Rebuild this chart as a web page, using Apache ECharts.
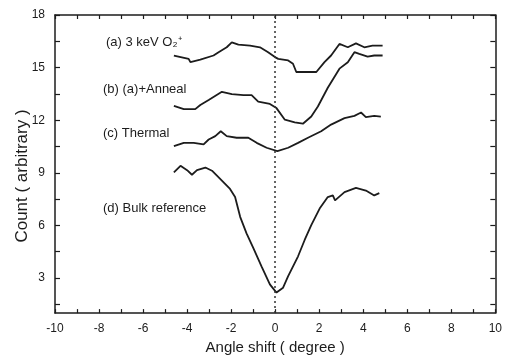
<!DOCTYPE html>
<html>
<head>
<meta charset="utf-8">
<script src="https://cdn.jsdelivr.net/npm/echarts@6/dist/echarts.min.js"></script>
<style>html,body{margin:0;padding:0;background:#fff}#c{width:505px;height:360px}</style>
</head>
<body>
<div id="c"></div>
<script>
// x tick labels and y tick labels
var xTickValues = [-10, -8, -6, -4, -2, 0, 2, 4, 6, 8, 10];
var xMinorTicks = [-10, -9, -8, -7, -6, -5, -4, -3, -2, -1, 0, 1, 2, 3, 4, 5, 6, 7, 8, 9, 10];
var yTickValues = [3, 6, 9, 12, 15, 18];
var yMinorTicks = [1.5, 3, 4.5, 6, 7.5, 9, 10.5, 12, 13.5, 15, 16.5, 18];

// (a) 3 keV O2+
var angleA = [-4.6, -3.93, -3.85, -3.40, -2.80, -2.57, -2.20, -1.97, -1.67, -1.14, -0.69, -0.32, -0.01, 0.14, 0.59, 0.81, 0.96, 1.34, 1.87, 2.24, 2.54, 2.92, 3.30, 3.67, 4.05, 4.42, 4.88];
var countA = [15.69, 15.5, 15.31, 15.45, 15.69, 15.88, 16.16, 16.44, 16.31, 16.25, 16.16, 15.88, 15.6, 15.5, 15.41, 15.22, 14.75, 14.75, 14.75, 15.31, 15.69, 16.35, 16.16, 16.38, 16.16, 16.25, 16.25];

// (b) (a)+Anneal
var angleB = [-4.6, -4.15, -3.63, -3.40, -3.02, -2.42, -1.97, -1.44, -1.07, -0.77, -0.24, 0.06, 0.44, 0.89, 1.26, 1.64, 1.94, 2.39, 2.92, 3.30, 3.60, 3.82, 4.20, 4.50, 4.88];
var countB = [12.82, 12.63, 12.63, 12.87, 13.15, 13.62, 13.49, 13.43, 13.43, 13.06, 12.93, 12.69, 12.03, 11.88, 11.80, 12.21, 12.78, 13.85, 14.94, 15.31, 15.88, 15.78, 15.63, 15.69, 15.69];

// (c) Thermal
var angleC = [-4.6, -4.15, -3.70, -3.25, -3.02, -2.72, -2.47, -2.20, -1.75, -1.22, -0.84, -0.39, 0.1, 0.59, 1.04, 1.49, 2.09, 2.54, 3.15, 3.60, 3.90, 4.12, 4.50, 4.80];
var countC = [10.52, 10.71, 10.71, 10.62, 10.90, 11.09, 11.37, 11.09, 11.00, 11.00, 10.71, 10.43, 10.24, 10.43, 10.71, 11.00, 11.37, 11.75, 12.12, 12.25, 12.44, 12.18, 12.25, 12.21];

// (d) Bulk reference
var angleD = [-4.6, -4.30, -4.00, -3.78, -3.55, -3.17, -2.87, -2.42, -2.05, -1.82, -1.59, -1.30, -0.99, -0.62, -0.24, 0.06, 0.36, 0.59, 1.04, 1.34, 1.64, 2.02, 2.39, 2.62, 2.72, 3.15, 3.67, 4.12, 4.50, 4.73];
var countD = [9.02, 9.40, 9.15, 8.89, 9.15, 9.30, 9.12, 8.55, 8.08, 7.62, 6.49, 5.55, 4.70, 3.67, 2.64, 2.17, 2.45, 3.11, 4.24, 5.17, 6.02, 6.96, 7.62, 7.71, 7.43, 7.90, 8.14, 7.99, 7.71, 7.84];

var labels = ['(a) 3 keV O\u2082\u207A', '(b) (a)+Anneal', '(c) Thermal', '(d) Bulk reference'];

function zip(xs, ys) { return xs.map(function (x, i) { return [x, ys[i]]; }); }

var FONT = '"Liberation Sans", Arial, sans-serif';
var INK = '#1c1c1c';

function lineSeries(xs, ys) {
  return {
    type: 'line', xAxisIndex: 0, yAxisIndex: 0,
    data: zip(xs, ys), showSymbol: false, symbol: 'none', smooth: false,
    lineStyle: { color: INK, width: 1.8 }, silent: true, z: 3
  };
}

var chart = echarts.init(document.getElementById('c'), null, { renderer: 'canvas' });
var series = [
  lineSeries(angleA, countA),
  lineSeries(angleB, countB),
  lineSeries(angleC, countC),
  lineSeries(angleD, countD)
];
series[0].markLine = {
  silent: true, symbol: ['none', 'none'], label: { show: false },
  lineStyle: { type: [2, 3], color: '#333', width: 1.5 },
  data: [{ xAxis: 0 }]
};

chart.setOption({
  animation: false,
  backgroundColor: '#fff',
  grid: { left: 55, right: 7, top: 15, bottom: 44, containLabel: false },
  xAxis: [{
    type: 'value', min: -10, max: 10, interval: 2, position: 'bottom',
    name: 'Angle shift ( degree )', nameLocation: 'middle', nameGap: 26,
    nameTextStyle: { fontFamily: FONT, fontSize: 15, color: INK },
    axisLine: { show: true, onZero: false, lineStyle: { color: INK, width: 1.5 } },
    axisTick: { show: true, inside: true, length: 4, customValues: xMinorTicks, lineStyle: { color: INK, width: 1.2 } },
    axisLabel: { fontFamily: FONT, fontSize: 12, color: INK, margin: 10, customValues: xTickValues },
    splitLine: { show: false }
  }, {
    type: 'value', min: -10, max: 10, interval: 2, position: 'top',
    axisLine: { show: true, onZero: false, lineStyle: { color: INK, width: 1.5 } },
    axisTick: { show: true, inside: true, length: 4, customValues: xMinorTicks, lineStyle: { color: INK, width: 1.2 } },
    axisLabel: { show: false },
    splitLine: { show: false }
  }],
  yAxis: [{
    type: 'value', min: 1, max: 18, position: 'left',
    axisLine: { show: true, onZero: false, lineStyle: { color: INK, width: 1.5 } },
    axisTick: { show: true, inside: true, length: 5, customValues: yMinorTicks, lineStyle: { color: INK, width: 1.2 } },
    axisLabel: { fontFamily: FONT, fontSize: 12, color: INK, margin: 10, customValues: yTickValues },
    splitLine: { show: false }
  }, {
    type: 'value', min: 1, max: 18, position: 'right',
    axisLine: { show: true, onZero: false, lineStyle: { color: INK, width: 1.5 } },
    axisTick: { show: true, inside: true, length: 5, customValues: yMinorTicks, lineStyle: { color: INK, width: 1.2 } },
    axisLabel: { show: false },
    splitLine: { show: false }
  }],
  graphic: [
    { type: 'text', left: 106, top: 36, style: { text: labels[0], font: '13px ' + FONT, fill: INK } },
    { type: 'text', left: 103, top: 83, style: { text: labels[1], font: '13px ' + FONT, fill: INK } },
    { type: 'text', left: 103, top: 127, style: { text: labels[2], font: '13px ' + FONT, fill: INK } },
    { type: 'text', left: 103, top: 202, style: { text: labels[3], font: '13px ' + FONT, fill: INK } },
    { type: 'text', x: 22, y: 176, rotation: Math.PI / 2,
      style: { text: 'Count ( arbitrary )', font: '17px ' + FONT, fill: INK, align: 'center', verticalAlign: 'middle' } }
  ],
  series: series
});
</script>
</body>
</html>
